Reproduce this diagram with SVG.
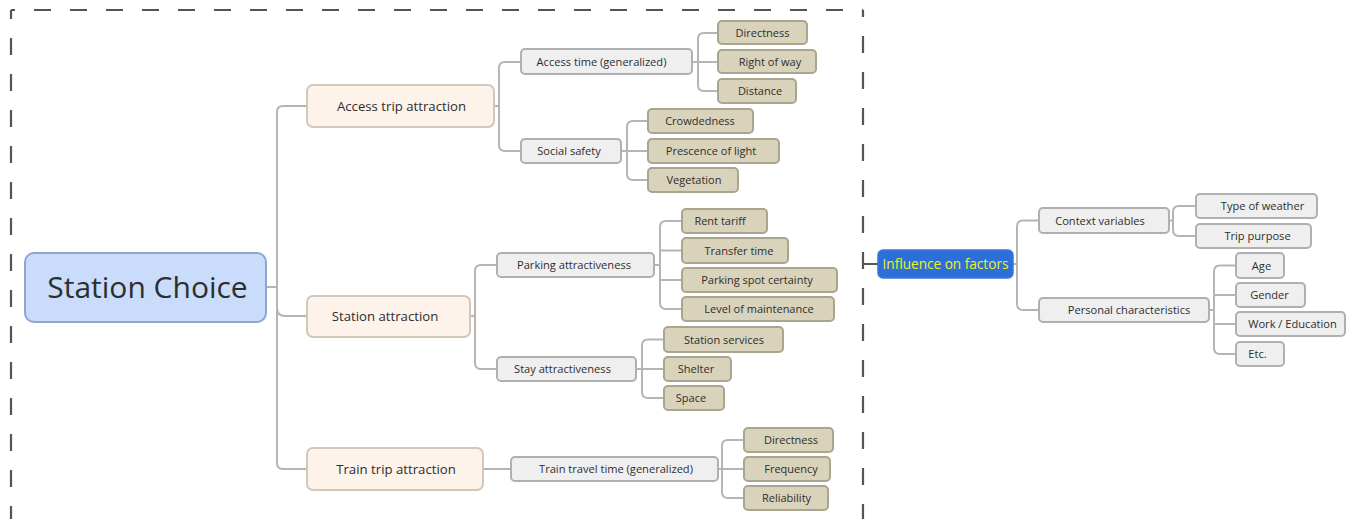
<svg xmlns="http://www.w3.org/2000/svg" width="1354" height="519" viewBox="0 0 1354 519">
  <style>
    text { font-family: "Open Sans", "Liberation Sans", sans-serif; fill: #2e2e2e; text-anchor: middle; }
    .root rect { fill: #c9dcfb; stroke: #8fa6cb; stroke-width: 2; }
    .root text { font-size: 30px; }
    .l1 rect { fill: #fdf3ea; stroke: #d2c7bb; stroke-width: 2; }
    .l1 text { font-size: 13.2px; }
    .l2 rect { fill: #efefef; stroke: #b0b0b0; stroke-width: 2; }
    .l2 text { font-size: 11.1px; }
    .leaf rect { fill: #d9d3bb; stroke: #aaa58f; stroke-width: 2; }
    .leaf text { font-size: 11px; }
    .hub rect { fill: #2c6fd8; stroke: #3a78d8; stroke-width: 1.5; }
    .hub text { font-size: 13.6px; fill: #f2f01a; }
    #connectors path { fill: none; stroke: #b5b5b5; stroke-width: 2; }
    #connectors .link { stroke: #555; }
    .frame { stroke: #555; stroke-width: 2.2; stroke-dasharray: 17 19; fill: none; }
  </style>

  <!-- dashed boundary of the station-choice tree -->
  <g id="frame">
    <line class="frame" x1="11" y1="10" x2="863" y2="10" stroke-dashoffset="13"/>
    <line class="frame" x1="11" y1="10" x2="11" y2="519" stroke-dashoffset="8"/>
    <line class="frame" x1="863" y1="10" x2="863" y2="519" stroke-dashoffset="10"/>
  </g>

  <g id="connectors">
    <!-- root -->
    <path d="M266,287 H277"/>
    <path d="M307,106 H283 Q277,106 277,112 V463 Q277,469 283,469 H307"/>
    <path d="M277,308 Q277,316 285,316 H307"/>
    <!-- access trip attraction -->
    <path d="M494,106 H499"/>
    <path d="M521,62 H505 Q499,62 499,68 V145 Q499,151 505,151 H521"/>
    <!-- access time -->
    <path d="M692,62 H718"/>
    <path d="M718,33 H704 Q698,33 698,39 V85 Q698,91 704,91 H718"/>
    <!-- social safety -->
    <path d="M621,151 H648"/>
    <path d="M648,121 H633 Q627,121 627,127 V174 Q627,180 633,180 H648"/>
    <!-- station attraction -->
    <path d="M470,316 H475"/>
    <path d="M497,265 H481 Q475,265 475,271 V363 Q475,369 481,369 H497"/>
    <!-- parking attractiveness -->
    <path d="M654,265 H660"/>
    <path d="M682,221 H666 Q660,221 660,227 V303 Q660,309 666,309 H682"/>
    <path d="M660,250.5 H682"/>
    <path d="M660,280 H682"/>
    <!-- stay attractiveness -->
    <path d="M636,369 H664"/>
    <path d="M664,339.5 H648 Q642,339.5 642,345.5 V392 Q642,398 648,398 H664"/>
    <!-- train trip attraction -->
    <path d="M483,469 H511"/>
    <path d="M718,469 H744"/>
    <path d="M744,440 H728 Q722,440 722,446 V492 Q722,498 728,498 H744"/>
    <!-- influence on factors -->
    <path class="link" d="M863,264 H878"/>
    <path d="M1013,264 H1017"/>
    <path d="M1039,220.5 H1023 Q1017,220.5 1017,226.5 V304 Q1017,310 1023,310 H1039"/>
    <!-- context variables -->
    <path d="M1169,220.5 H1173"/>
    <path d="M1196,206 H1179 Q1173,206 1173,212 V230 Q1173,236 1179,236 H1196"/>
    <!-- personal characteristics -->
    <path d="M1209,310 H1214"/>
    <path d="M1236,265.5 H1220 Q1214,265.5 1214,271.5 V348 Q1214,354 1220,354 H1236"/>
    <path d="M1214,295 H1236"/>
    <path d="M1214,324 H1236"/>
  </g>

  <g id="station-choice" class="root"><rect x="25" y="253" width="241" height="69" rx="9"/><text x="147.5" y="298">Station Choice</text></g>

  <g id="access-trip" class="l1"><rect x="307" y="85" width="187" height="42" rx="6"/><text x="401.5" y="111">Access trip attraction</text></g>
  <g id="station-attraction" class="l1"><rect x="307" y="296" width="163" height="41" rx="6"/><text x="385" y="321">Station attraction</text></g>
  <g id="train-trip" class="l1"><rect x="307" y="448" width="176" height="42" rx="6"/><text x="396" y="474">Train trip attraction</text></g>

  <g id="access-time" class="l2"><rect x="521" y="49" width="171" height="25" rx="4"/><text x="601.5" y="66">Access time (generalized)</text></g>
  <g id="social-safety" class="l2"><rect x="521" y="139" width="100" height="24" rx="4"/><text x="569" y="155">Social safety</text></g>
  <g id="parking" class="l2"><rect x="497" y="253" width="157" height="24" rx="4"/><text x="574" y="269">Parking attractiveness</text></g>
  <g id="stay" class="l2"><rect x="497" y="357" width="139" height="24" rx="4"/><text x="562.5" y="373">Stay attractiveness</text></g>
  <g id="train-time" class="l2"><rect x="511" y="457" width="207" height="24" rx="4"/><text x="616" y="473">Train travel time (generalized)</text></g>

  <g id="access-directness" class="leaf"><rect x="718" y="21" width="89" height="23" rx="4"/><text x="762.5" y="36.5">Directness</text></g>
  <g id="right-of-way" class="leaf"><rect x="718" y="50" width="98" height="23" rx="4"/><text x="770" y="65.5">Right of way</text></g>
  <g id="distance" class="leaf"><rect x="718" y="79" width="78" height="24" rx="4"/><text x="760" y="95">Distance</text></g>
  <g id="crowdedness" class="leaf"><rect x="648" y="109" width="105" height="24" rx="4"/><text x="700" y="125">Crowdedness</text></g>
  <g id="light" class="leaf"><rect x="648" y="139" width="131" height="24" rx="4"/><text x="711" y="155">Prescence of light</text></g>
  <g id="vegetation" class="leaf"><rect x="648" y="168" width="90" height="24" rx="4"/><text x="694" y="184">Vegetation</text></g>
  <g id="rent-tariff" class="leaf"><rect x="682" y="209" width="85" height="24" rx="4"/><text x="720" y="225">Rent tariff</text></g>
  <g id="transfer-time" class="leaf"><rect x="682" y="238" width="106" height="25" rx="4"/><text x="739" y="254.5">Transfer time</text></g>
  <g id="spot-certainty" class="leaf"><rect x="682" y="268" width="155" height="24" rx="4"/><text x="757" y="284">Parking spot certainty</text></g>
  <g id="maintenance" class="leaf"><rect x="682" y="297" width="152" height="24" rx="4"/><text x="759" y="313">Level of maintenance</text></g>
  <g id="station-services" class="leaf"><rect x="664" y="327" width="119" height="25" rx="4"/><text x="724" y="343.5">Station services</text></g>
  <g id="shelter" class="leaf"><rect x="664" y="357" width="67" height="24" rx="4"/><text x="696" y="373">Shelter</text></g>
  <g id="space" class="leaf"><rect x="664" y="386" width="60" height="24" rx="4"/><text x="691" y="402">Space</text></g>
  <g id="train-directness" class="leaf"><rect x="744" y="428" width="89" height="24" rx="4"/><text x="791" y="444">Directness</text></g>
  <g id="frequency" class="leaf"><rect x="744" y="457" width="86" height="24" rx="4"/><text x="791" y="473">Frequency</text></g>
  <g id="reliability" class="leaf"><rect x="744" y="486" width="84" height="24" rx="4"/><text x="786.5" y="502">Reliability</text></g>

  <g id="influence" class="hub"><rect x="878" y="250" width="135" height="28" rx="5"/><text x="945.5" y="269">Influence on factors</text></g>

  <g id="context" class="l2"><rect x="1039" y="208" width="130" height="25" rx="4"/><text x="1100" y="224.5">Context variables</text></g>
  <g id="personal" class="l2"><rect x="1039" y="298" width="170" height="24" rx="4"/><text x="1129" y="314">Personal characteristics</text></g>
  <g id="weather" class="l2"><rect x="1196" y="194" width="121" height="24" rx="4"/><text x="1262.5" y="210">Type of weather</text></g>
  <g id="trip-purpose" class="l2"><rect x="1196" y="224" width="115" height="24" rx="4"/><text x="1257.5" y="240">Trip purpose</text></g>
  <g id="age" class="l2"><rect x="1236" y="253" width="48" height="25" rx="4"/><text x="1261.5" y="269.5">Age</text></g>
  <g id="gender" class="l2"><rect x="1236" y="283" width="69" height="24" rx="4"/><text x="1269.5" y="299">Gender</text></g>
  <g id="work" class="l2"><rect x="1236" y="312" width="109" height="24" rx="4"/><text x="1292.5" y="328">Work / Education</text></g>
  <g id="etc" class="l2"><rect x="1236" y="342" width="48" height="24" rx="4"/><text x="1257.5" y="358">Etc.</text></g>
</svg>
